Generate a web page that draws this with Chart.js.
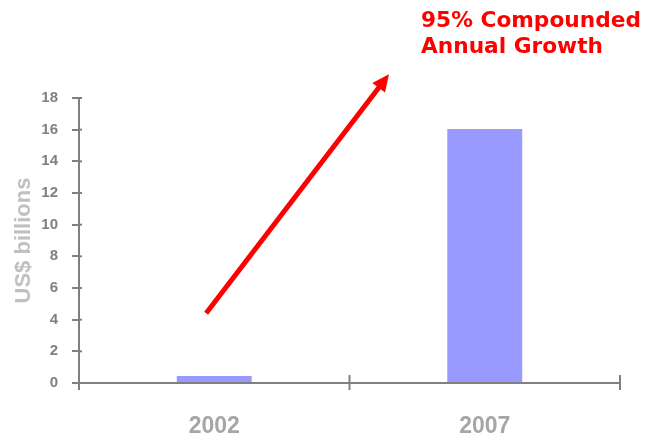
<!DOCTYPE html>
<html>
<head>
<meta charset="utf-8">
<script src="https://cdn.jsdelivr.net/npm/chart.js@4"></script>
<style>
  body { margin: 0; background: #fff; }
  #wrap { width: 655px; height: 436px; position: relative; }
</style>
</head>
<body>
<div id="wrap"><canvas id="growthChart"></canvas></div>
<script>
const years = ['2002', '2007'];
const revenue = [0.45, 16.05];
const yTicks = [0, 2, 4, 6, 8, 10, 12, 14, 16, 18];
const arrowFrom = { x: -0.03, y: 4.4 };   // in data units (category index, US$ bn)
const arrowTo = { x: 0.646, y: 19.5 };
const noteLines = ['95% Compounded', 'Annual Growth'];

const axisGray = '#808080';

// draws the x tick marks that cross the axis, the red arrow and the note
const extras = {
  id: 'extras',
  afterDraw(chart) {
    const { ctx, scales: { x, y } } = chart;
    const base = y.getPixelForValue(0);

    ctx.save();
    ctx.strokeStyle = axisGray;
    ctx.lineWidth = 2;
    for (let i = 0; i <= years.length; i++) {
      const px = x.getPixelForValue(i - 0.5);
      ctx.beginPath();
      ctx.moveTo(px, base - 8);
      ctx.lineTo(px, base + 7);
      ctx.stroke();
    }
    // short stubs of the y ticks on the inner side of the axis
    yTicks.forEach(v => {
      const py = y.getPixelForValue(v);
      ctx.beginPath();
      ctx.moveTo(x.left, py);
      ctx.lineTo(x.left + 3, py);
      ctx.stroke();
    });

    // arrow
    const x0 = x.getPixelForValue(arrowFrom.x), y0 = y.getPixelForValue(arrowFrom.y);
    const x1 = x.getPixelForValue(arrowTo.x), y1 = y.getPixelForValue(arrowTo.y);
    const ang = Math.atan2(y1 - y0, x1 - x0);
    const head = 17, half = 8;
    const bx = x1 - head * Math.cos(ang), by = y1 - head * Math.sin(ang);
    ctx.strokeStyle = '#ff0000';
    ctx.fillStyle = '#ff0000';
    ctx.lineWidth = 5;
    ctx.beginPath();
    ctx.moveTo(x0, y0);
    ctx.lineTo(bx + 2 * Math.cos(ang), by + 2 * Math.sin(ang));
    ctx.stroke();
    ctx.beginPath();
    ctx.moveTo(x1, y1);
    ctx.lineTo(bx + half * Math.sin(ang), by - half * Math.cos(ang));
    ctx.lineTo(bx - half * Math.sin(ang), by + half * Math.cos(ang));
    ctx.closePath();
    ctx.fill();

    // note
    ctx.font = 'bold 21.7px "DejaVu Sans", Verdana, sans-serif';
    ctx.textAlign = 'left';
    ctx.textBaseline = 'alphabetic';
    ctx.fillText(noteLines[0], 421, 27);
    ctx.fillText(noteLines[1], 421, 52.5);
    ctx.restore();
  }
};

const ctx = document.getElementById('growthChart').getContext('2d');
new Chart(ctx, {
  type: 'bar',
  data: {
    labels: years,
    datasets: [{
      data: revenue,
      backgroundColor: '#9999ff',
      categoryPercentage: 1,
      barPercentage: 0.277
    }]
  },
  options: {
    responsive: true,
    maintainAspectRatio: false,
    animation: false,
    layout: { padding: { top: 98, right: 35, bottom: 0, left: 0 } },
    plugins: {
      legend: { display: false },
      tooltip: { enabled: false }
    },
    scales: {
      x: {
        grid: { display: false, drawTicks: false },
        border: { color: axisGray, width: 2 },
        ticks: {
          color: '#a6a6a6',
          padding: 30,
          font: { family: '"Liberation Sans", Arial, sans-serif', size: 23, weight: 'bold' }
        },
        afterFit(scale) { scale.height = 53; }
      },
      y: {
        min: 0,
        max: 18,
        afterBuildTicks(scale) { scale.ticks = yTicks.map(v => ({ value: v })); },
        grid: { drawOnChartArea: false, color: axisGray, lineWidth: 2, tickLength: 7 },
        border: { color: axisGray, width: 2 },
        ticks: {
          color: '#808080',
          padding: 14,
          font: { family: '"Liberation Sans", Arial, sans-serif', size: 15, weight: 'bold' }
        },
        title: {
          display: true,
          text: 'US$ billions',
          color: '#c0c0c0',
          padding: { top: 11, bottom: 0 },
          font: { family: '"Liberation Sans", Arial, sans-serif', size: 22, weight: 'bold' }
        },
        afterFit(scale) { scale.width = 79; }
      }
    }
  },
  plugins: [extras]
});
</script>
</body>
</html>
